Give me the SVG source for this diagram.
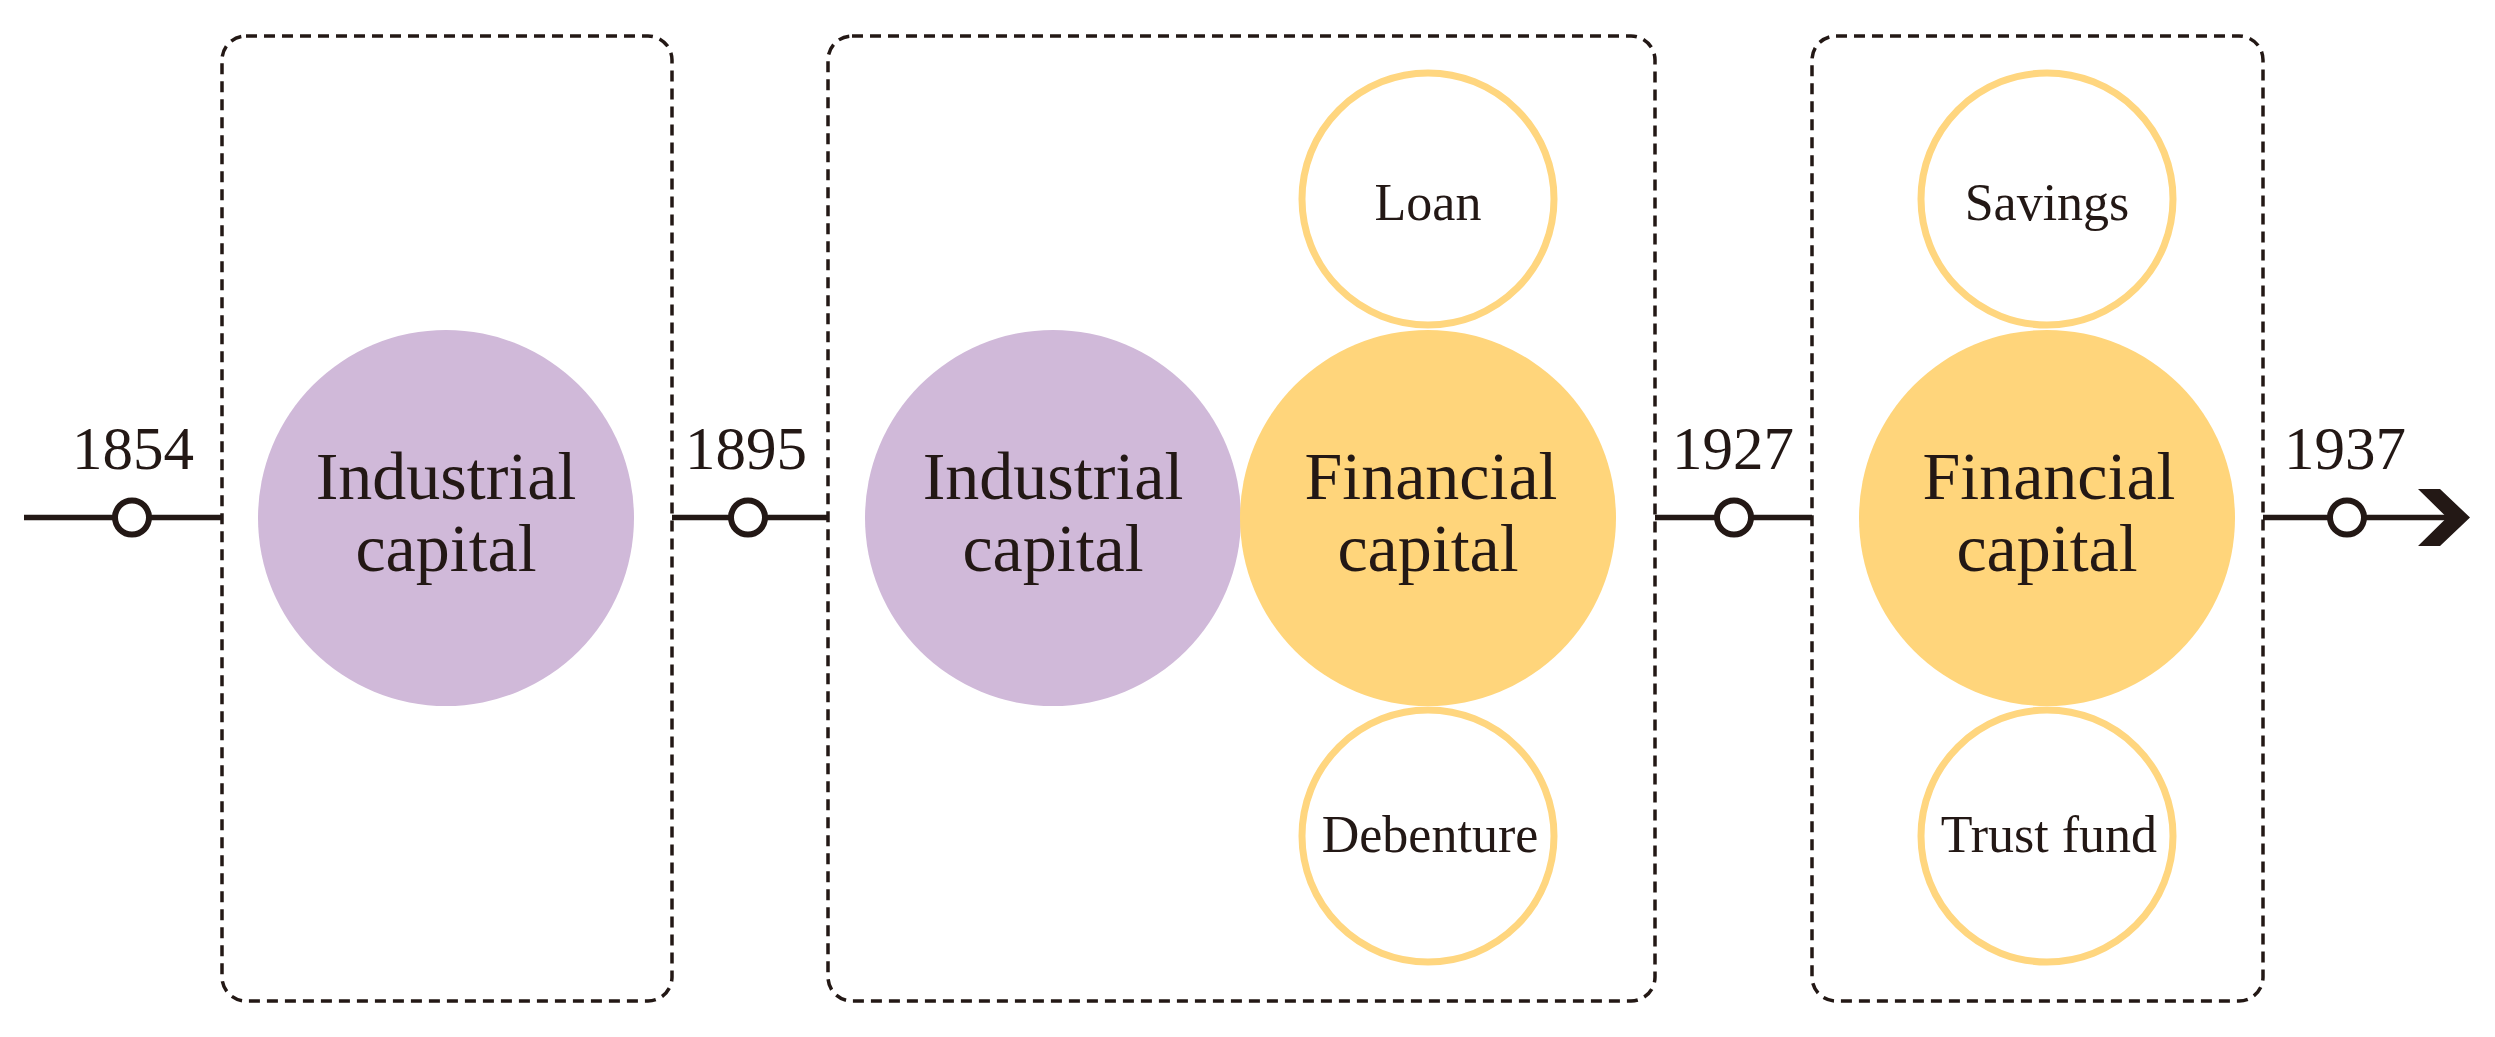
<svg xmlns="http://www.w3.org/2000/svg" width="2495" height="1037" viewBox="0 0 2495 1037">
<style>
.box{fill:none;stroke:#231815;stroke-width:3.5;stroke-dasharray:11 7}
.ind{fill:#D0B9D9}
.fin{fill:#FFD57B}
.sub{fill:#fff;stroke:#FFD67F;stroke-width:7}
.line{stroke:#231815;stroke-width:5.5;fill:none}
.mark{fill:#fff;stroke:#231815;stroke-width:6}
text{font-family:"Liberation Serif","Times New Roman",serif;fill:#231815;text-anchor:middle}
.big{font-size:68px}
.small{font-size:52px}
.year{font-size:61px}
</style>
<rect width="2495" height="1037" fill="#fff"/>
<g id="connectors">
<line class="line" x1="24" y1="517.5" x2="222" y2="517.5"/>
<line class="line" x1="672" y1="517.5" x2="828" y2="517.5"/>
<line class="line" x1="1655" y1="517.5" x2="1812" y2="517.5"/>
<line class="line" x1="2263" y1="517.5" x2="2448" y2="517.5"/>
<polygon points="2418,489 2440,489 2470,517.5 2440,546 2418,546 2447,517.5" fill="#231815"/>
</g>
<g id="box1"><rect class="box" x="222" y="36" width="450" height="965" rx="24"/></g>
<g id="box2"><rect class="box" x="828" y="36" width="827" height="965" rx="24"/></g>
<g id="box3"><rect class="box" x="1812" y="36" width="451" height="965" rx="24"/></g>
<g id="m1854"><circle class="mark" cx="132" cy="517.5" r="17"/><text class="year" x="133" y="469">1854</text></g>
<g id="m1895"><circle class="mark" cx="748" cy="517.5" r="17"/><text class="year" x="746" y="469">1895</text></g>
<g id="m1927"><circle class="mark" cx="1734" cy="517.5" r="17"/><text class="year" x="1733" y="469">1927</text></g>
<g id="m1937"><circle class="mark" cx="2347" cy="517.5" r="17"/><text class="year" x="2345" y="469">1937</text></g>
<g id="ind1"><circle class="ind" cx="446" cy="518" r="188"/><text class="big" x="446" y="499">Industrial</text><text class="big" x="446" y="571">capital</text></g>
<g id="ind2"><circle class="ind" cx="1053" cy="518" r="188"/><text class="big" x="1053" y="499">Industrial</text><text class="big" x="1053" y="571">capital</text></g>
<g id="loan"><circle class="sub" cx="1428" cy="199" r="126"/><text class="small" x="1428" y="220">Loan</text></g>
<g id="debenture"><circle class="sub" cx="1428" cy="836" r="126"/><text class="small" x="1430" y="852">Debenture</text></g>
<g id="fin2"><circle class="fin" cx="1428" cy="518" r="188"/><text class="big" x="1431" y="499">Financial</text><text class="big" x="1428" y="571">capital</text></g>
<g id="savings"><circle class="sub" cx="2047" cy="199" r="126"/><text class="small" x="2047" y="220">Savings</text></g>
<g id="trust"><circle class="sub" cx="2047" cy="836" r="126"/><text class="small" x="2049" y="852">Trust fund</text></g>
<g id="fin3"><circle class="fin" cx="2047" cy="518" r="188"/><text class="big" x="2049" y="499">Financial</text><text class="big" x="2047" y="571">capital</text></g>
</svg>
